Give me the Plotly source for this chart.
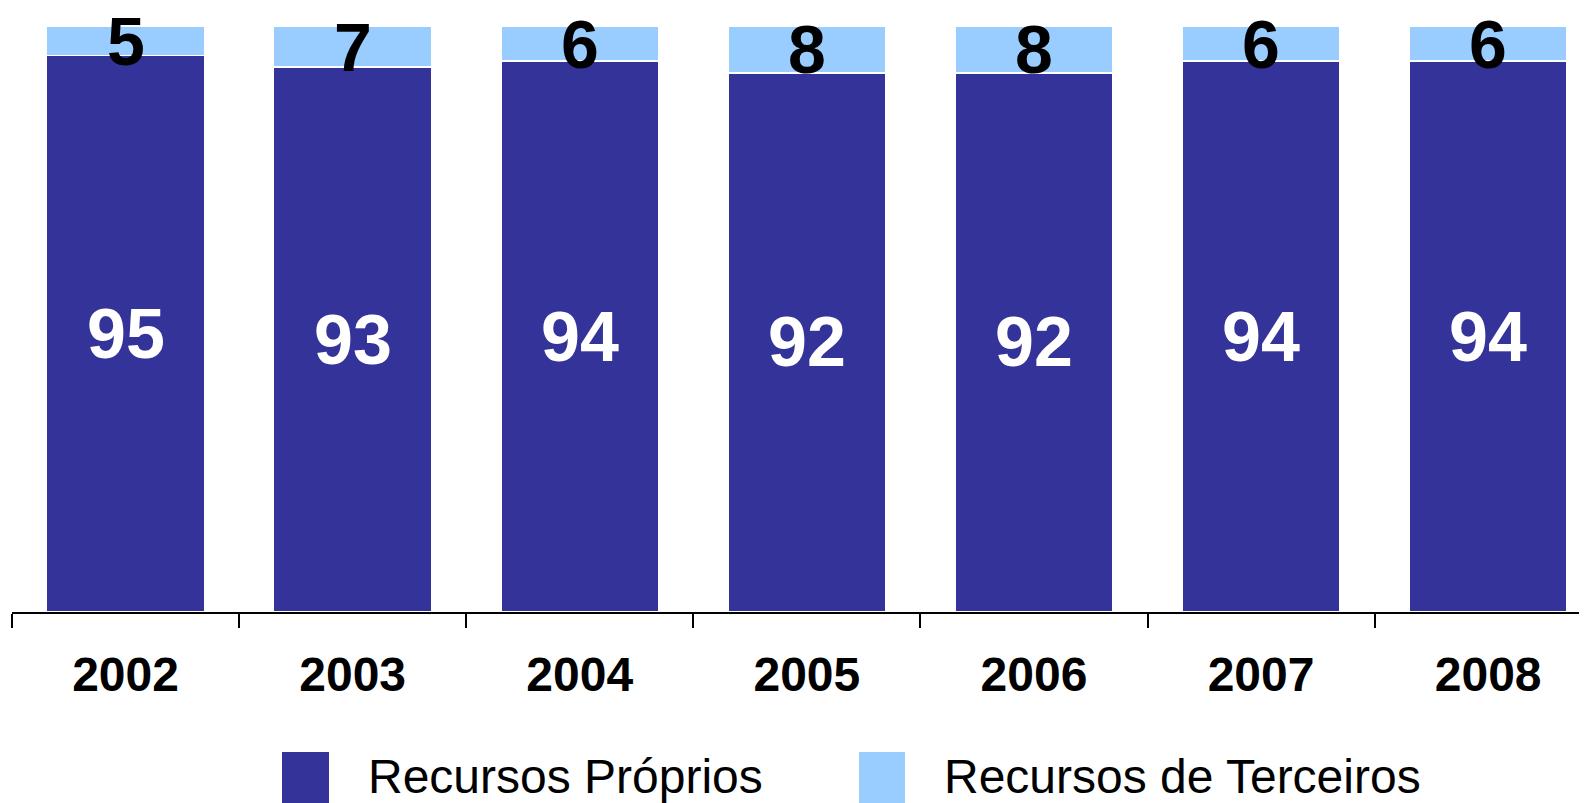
import plotly.graph_objects as go

years = ["2002", "2003", "2004", "2005", "2006", "2007", "2008"]
proprios = [95, 93, 94, 92, 92, 94, 94]
terceiros = [5, 7, 6, 8, 8, 6, 6]
series_names = ["Recursos Próprios", "Recursos de Terceiros"]

DARK = "#333399"
LIGHT = "#99CCFF"
FONT = "Liberation Sans, Arial, sans-serif"

fig = go.Figure()
fig.add_trace(go.Bar(x=years, y=proprios, name=series_names[0],
                     marker=dict(color=DARK, line=dict(color="white", width=1.5))))
fig.add_trace(go.Bar(x=years, y=terceiros, name=series_names[1],
                     marker=dict(color=LIGHT, line=dict(color="white", width=1.5))))

annotations = []
for i, (p, t) in enumerate(zip(proprios, terceiros)):
    annotations.append(dict(x=i, y=p / 2, xref="x", yref="y", text=f"<b>{p}</b>",
                            showarrow=False, font=dict(family=FONT, size=70, color="white"),
                            yanchor="middle"))
    annotations.append(dict(x=i, y=p + t / 2, xref="x", yref="y", text=f"<b>{t}</b>",
                            showarrow=False, font=dict(family=FONT, size=68, color="black"),
                            yanchor="middle"))

# manual legend (paper coords relative to plot area)
PW = 1575.0
def px(v):
    return (v - 12.0) / PW

leg = [(282.0, 329.0, 366.0, DARK, series_names[0]),
       (859.0, 905.0, 942.0, LIGHT, series_names[1])]
shapes = []
for x0, x1, tx, col, name in leg:
    shapes.append(dict(type="rect", xref="paper", yref="paper", x0=px(x0), x1=px(x1),
                       y0=-0.34, y1=-0.239, fillcolor=col, line=dict(width=0)))
    annotations.append(dict(x=px(tx), y=-0.280, xref="paper", yref="paper", text=name,
                            showarrow=False, xanchor="left", yanchor="middle",
                            font=dict(family=FONT, size=48, color="black")))

fig.update_layout(
    barmode="stack",
    bargap=0.305,
    width=1579, height=795,
    margin=dict(l=4, r=0, t=18, b=191, autoexpand=False),
    paper_bgcolor="white", plot_bgcolor="white",
    showlegend=False,
    annotations=annotations,
    shapes=shapes,
    xaxis=dict(type="category", range=[-0.5, -0.5 + PW / 227.1], showline=True,
               linecolor="black", linewidth=2, ticks="outside", tickson="boundaries",
               ticklen=14, tickwidth=2, tickcolor="black", ticklabelstandoff=19,
               tickfont=dict(family=FONT, size=48, color="black", weight="bold"),
               showgrid=False, zeroline=False),
    yaxis=dict(range=[0, 100], visible=False, showgrid=False, zeroline=False),
)

fig.write_html("out.html")
